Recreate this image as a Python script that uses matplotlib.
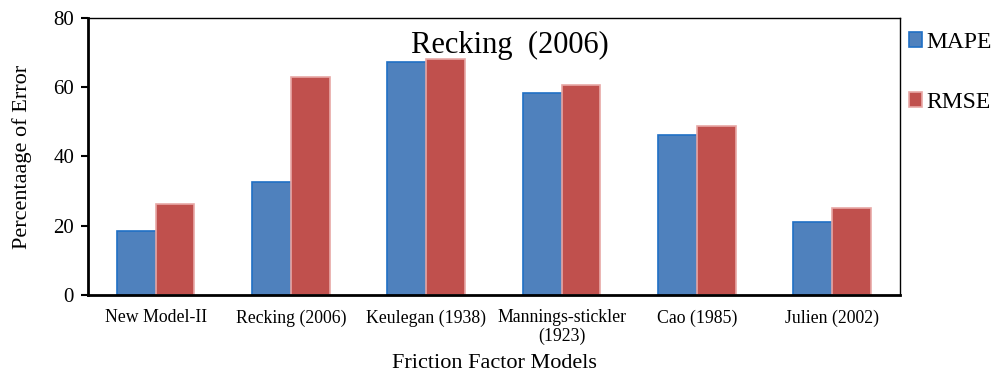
import numpy as np
import matplotlib.pyplot as plt

plt.rcParams['font.family'] = ['Liberation Serif', 'DejaVu Serif']

models = ['New Model-II', 'Recking (2006)', 'Keulegan (1938)',
          'Mannings-stickler\n(1923)', 'Cao (1985)', 'Julien (2002)']
mape = [18.5, 32.7, 67.2, 58.3, 46.3, 21.0]
rmse = [26.2, 63.0, 68.0, 60.7, 48.9, 25.2]

fig = plt.figure(figsize=(9.94, 3.74), dpi=100)
ax = fig.add_axes([0.0885, 0.2104, 0.8169, 0.7426])

x = np.arange(len(models))
w = 0.287
ax.bar(x - w / 2, mape, w, color='#4F81BD', edgecolor='#1F6FC5',
       linewidth=1.2, label='MAPE')
ax.bar(x + w / 2, rmse, w, color='#C0504D', edgecolor='#E8A8A6',
       linewidth=1.2, label='RMSE')

ax.set_xlim(-0.5, len(models) - 0.5)
ax.set_ylim(0, 80)
ax.set_yticks([0, 20, 40, 60, 80])
ax.set_xticks(x)
ax.set_xticklabels(models, fontsize=12.8, linespacing=1.15)
ax.tick_params(axis='x', length=0, pad=10)
ax.tick_params(axis='y', labelsize=15, length=5, width=1.5, direction='out', pad=5)

for side in ['left', 'bottom']:
    ax.spines[side].set_linewidth(2)
for side in ['top', 'right']:
    ax.spines[side].set_linewidth(1)

ax.set_ylabel('Percentaage of Error', fontsize=16, labelpad=15)
ax.set_xlabel('Friction Factor Models', fontsize=16, labelpad=6)
ax.text(0.52, 0.9, 'Recking  (2006)', transform=ax.transAxes,
        ha='center', va='center', fontsize=22)

fig.legend(loc='upper left', bbox_to_anchor=(0.905, 0.94), frameon=False,
           fontsize=17, handlelength=0.55, handleheight=0.55,
           handletextpad=0.2, labelspacing=1.65, borderaxespad=0)

fig.savefig('out.png', dpi=100)
